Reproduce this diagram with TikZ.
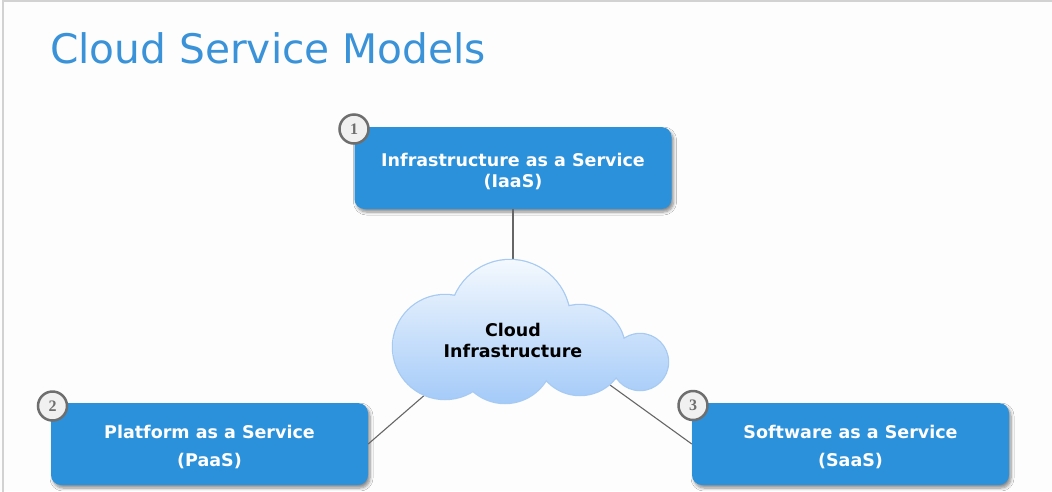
\documentclass[tikz,border=0pt]{standalone}
\usepackage{fontspec}
\setmainfont{DejaVu Sans}
\newfontfamily\numfont{Liberation Serif}
\usetikzlibrary{shadows,shadows.blur}
\definecolor{boxblue}{RGB}{44,145,219}
\definecolor{titleblue}{RGB}{58,147,216}
\definecolor{bgcol}{RGB}{253,253,253}
\definecolor{bordercol}{RGB}{210,210,210}
\definecolor{conncol}{RGB}{102,102,102}
\definecolor{cloudtop}{RGB}{246,250,254}
\definecolor{cloudbot}{RGB}{160,200,248}
\definecolor{cloudedge}{RGB}{166,202,242}
\definecolor{numfill}{RGB}{240,240,240}
\definecolor{numdraw}{RGB}{110,110,110}
\tikzset{
  svcbox/.style={draw=none, fill=boxblue, rounded corners=10pt,
    minimum width=317pt, minimum height=82pt,
    blur shadow={shadow xshift=2pt, shadow yshift=-3pt, shadow opacity=45, shadow blur steps=6, shadow blur radius=3pt}},
  svctext/.style={text=white, align=center, inner sep=0pt},
  numcirc/.style={circle, minimum size=29pt, inner sep=0pt, fill=numfill, draw=numdraw,
    line width=2.5pt, text=numdraw, font=\numfont\bfseries\fontsize{16}{16}\selectfont},
  conn/.style={draw=conncol, line width=1.1pt},
}
\def\cloudpath{(445,347) circle (52pt) (510,320) circle (60pt) (505,355) circle (48pt) (580,350) circle (45pt) (640,362) circle (28pt)}
\begin{document}
\begin{tikzpicture}[x=1pt,y=-1pt]
\useasboundingbox (0,0) rectangle (1052,491);
\fill[bgcol] (0,0) rectangle (1052,491);
\draw[bordercol, line width=1.5pt] (3,600) -- (3,1) -- (1100,1);
\node[anchor=base west, text=titleblue, font=\fontsize{40.7}{40}\selectfont, inner sep=0pt] (title) at (50,63) {Cloud Service Models};

\coordinate (cT) at (513,262);
\coordinate (cL) at (427,393);
\coordinate (cR) at (610,385);

\node[svcbox] (iaas) at (513,168) {};
\node[svcbox] (paas) at (209.5,444) {};
\node[svcbox] (saas) at (850.5,444) {};
\node[svctext, font=\bfseries\fontsize{17.5}{21}\selectfont] (iaastext) at ([yshift=-3pt]iaas.center) {Infrastructure as a Service\\(IaaS)};
\node[svctext, font=\bfseries\fontsize{17.5}{28}\selectfont] (paastext) at ([yshift=-3pt]paas.center) {Platform as a Service\\(PaaS)};
\node[svctext, font=\bfseries\fontsize{17.5}{28}\selectfont] (saastext) at ([yshift=-3pt]saas.center) {Software as a Service\\(SaaS)};

\draw[conn] (iaas.south) -- (cT);
\draw[conn] (paas.east) -- (cL);
\draw[conn] (saas.west) -- (cR);

\draw[cloudedge, line width=2.5pt] \cloudpath;
\begin{scope}
  \clip \cloudpath;
  \shade[top color=cloudtop, bottom color=cloudbot] (385,255) rectangle (675,410);
\end{scope}
\node[align=center, font=\bfseries\fontsize{17.5}{21}\selectfont] (cloud) at (513,340) {Cloud\\Infrastructure};

\node[numcirc] (n1) at (354,129) {1};
\node[numcirc] (n2) at (52.5,406) {2};
\node[numcirc] (n3) at (693,405.5) {3};
\end{tikzpicture}
\end{document}
